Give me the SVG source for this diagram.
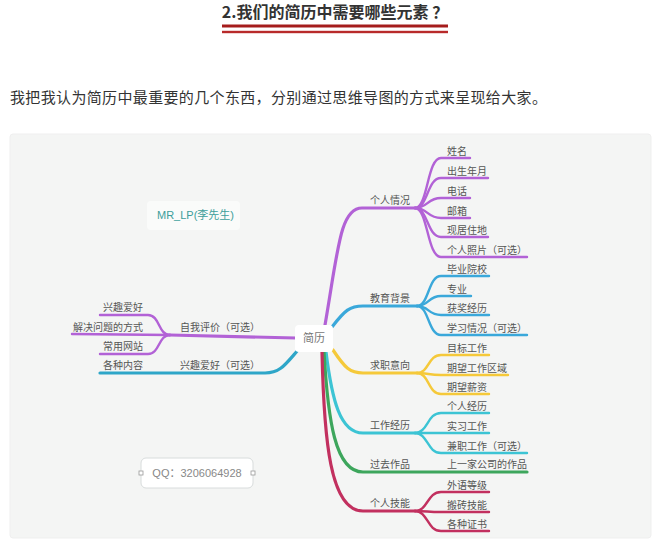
<svg xmlns="http://www.w3.org/2000/svg" width="662" height="546" viewBox="0 0 662 546">
<style>
text{font-family:"Liberation Sans","Noto Sans CJK SC",sans-serif}
.cjk{font-family:"Noto Sans CJK SC","Liberation Sans",sans-serif}
.t{font-size:10px;fill:#555}
.l{fill:none;stroke-linecap:round;stroke-width:2.4}
.m{fill:none;stroke-linecap:round;stroke-width:3.2}
.pu{stroke:#b262d6}.bl{stroke:#3aa8da}.ye{stroke:#f5c93a}.te{stroke:#3cc4d4}.gr{stroke:#3da65c}.cr{stroke:#c2305f}.lb{stroke:#2ea6c8}
</style>
<rect width="662" height="546" fill="#ffffff"/>
<g id="title">
<text class="cjk" x="335" y="18" text-anchor="middle" font-size="16" font-weight="bold" fill="#333">2.我们的简历中需要哪些元素 ？</text>
<rect x="222" y="24.5" width="226" height="3" fill="#a51c1c"/>
<rect x="222" y="30.8" width="226" height="2.4" fill="#b82a2a"/>
</g>
<text id="intro" class="cjk" x="10" y="103" font-size="15" letter-spacing="0.35" fill="#333">我把我认为简历中最重要的几个东西，分别通过思维导图的方式来呈现给大家。</text>
<rect id="panel" x="10" y="134" width="641" height="404" rx="3" fill="#f4f5f4" stroke="#efefef"/>
<g id="connectors">
<path class="m pu" d="M325,325 C338,250 340,208 362,208 L415,208"/>
<path class="m bl" d="M332,327 C345,310 350,306 363,306 L417,306"/>
<path class="m ye" d="M333,350 C345,368 350,373 363,373 L417,373"/>
<path class="m te" d="M326,352 C332,400 340,433 363,433 L415,433"/>
<path class="m gr" d="M324,352 C328,420 335,472 363,472 L527,472"/>
<path class="m cr" d="M322,352 C324,440 330,511 363,511 L415,511"/>
<path class="m pu" d="M296,338 L170,335"/>
<path class="m lb" d="M298,350 C285,365 280,373 265,373 L100,373"/>
<path class="l pu" d="M170,335 C158,335 160,315 148,315 L100,315"/>
<path class="l pu" d="M170,335 L72,334"/>
<path class="l pu" d="M170,335 C158,335 160,354 148,354 L100,354"/>
<path class="l pu" d="M415,208 C428,208 427,158 441,158 L470,158"/>
<path class="l pu" d="M415,208 C428,208 427,178 441,178 L488,178"/>
<path class="l pu" d="M415,208 C428,208 427,198 441,198 L470,198"/>
<path class="l pu" d="M415,208 C428,208 427,218 441,218 L470,218"/>
<path class="l pu" d="M415,208 C428,208 427,237 441,237 L488,237"/>
<path class="l pu" d="M415,208 C428,208 427,257 441,257 L527,257"/>
<path class="l bl" d="M417,306 C429,306 428,276 441,276 L489,276"/>
<path class="l bl" d="M417,306 C429,306 428,296 441,296 L471,296"/>
<path class="l bl" d="M417,306 C429,306 428,315 441,315 L489,315"/>
<path class="l bl" d="M417,306 C429,306 428,335 441,335 L527,335"/>
<path class="l ye" d="M417,373 C429,373 428,355 441,355 L489,355"/>
<path class="l ye" d="M417,373 C429,373 428,375 441,375 L508,375"/>
<path class="l ye" d="M417,373 C429,373 428,394 441,394 L489,394"/>
<path class="l te" d="M415,433 C428,433 427,413 441,413 L489,413"/>
<path class="l te" d="M415,433 L489,433"/>
<path class="l te" d="M415,433 C428,433 427,453 441,453 L527,453"/>
<path class="l cr" d="M415,511 C428,511 427,492 441,492 L489,492"/>
<path class="l cr" d="M415,511 C428,511 427,512 441,512 L489,512"/>
<path class="l cr" d="M415,511 C428,511 427,531 441,531 L489,531"/>
</g>
<g id="center">
<rect x="295" y="325" width="38" height="27" rx="4" fill="#ffffff"/>
<text x="314" y="342" text-anchor="middle" font-size="11" fill="#777">简历</text>
</g>
<g id="n-geren">
<text class="t" x="370" y="204">个人情况</text>
<text class="t" x="447" y="155">姓名</text>
<text class="t" x="447" y="175">出生年月</text>
<text class="t" x="447" y="195">电话</text>
<text class="t" x="447" y="215">邮箱</text>
<text class="t" x="447" y="234">现居住地</text>
<text class="t" x="447" y="254">个人照片（可选）</text>
</g>
<g id="n-jiaoyu">
<text class="t" x="370" y="302">教育背景</text>
<text class="t" x="447" y="273">毕业院校</text>
<text class="t" x="447" y="293">专业</text>
<text class="t" x="447" y="312">获奖经历</text>
<text class="t" x="447" y="332">学习情况（可选）</text>
</g>
<g id="n-qiuzhi">
<text class="t" x="370" y="369">求职意向</text>
<text class="t" x="447" y="352">目标工作</text>
<text class="t" x="447" y="372">期望工作区域</text>
<text class="t" x="447" y="391">期望薪资</text>
</g>
<g id="n-gongzuo">
<text class="t" x="370" y="429">工作经历</text>
<text class="t" x="447" y="410">个人经历</text>
<text class="t" x="447" y="430">实习工作</text>
<text class="t" x="447" y="450">兼职工作（可选）</text>
</g>
<g id="n-zuopin">
<text class="t" x="370" y="468">过去作品</text>
<text class="t" x="447" y="468">上一家公司的作品</text>
</g>
<g id="n-jineng">
<text class="t" x="370" y="507">个人技能</text>
<text class="t" x="447" y="489">外语等级</text>
<text class="t" x="447" y="509">搬砖技能</text>
<text class="t" x="447" y="528">各种证书</text>
</g>
<g id="n-ziwo">
<text class="t" x="180" y="331">自我评价（可选）</text>
<text class="t" x="143" y="311" text-anchor="end">兴趣爱好</text>
<text class="t" x="143" y="331" text-anchor="end">解决问题的方式</text>
<text class="t" x="143" y="350" text-anchor="end">常用网站</text>
</g>
<g id="n-xingqu">
<text class="t" x="180" y="369">兴趣爱好（可选）</text>
<text class="t" x="143" y="369" text-anchor="end">各种内容</text>
</g>
<g id="n-mrlp">
<rect x="147" y="201" width="93" height="29" rx="4" fill="#fafbfa"/>
<text x="157" y="219" font-size="11" fill="#3d9e9a">MR_LP(李先生)</text>
</g>
<g id="n-qq">
<rect x="141" y="458" width="112" height="30" rx="5" fill="#ffffff" stroke="#d8dcdc"/>
<rect x="139" y="471" width="4" height="4" fill="#fff" stroke="#999" stroke-width="0.8"/>
<rect x="251" y="471" width="4" height="4" fill="#fff" stroke="#999" stroke-width="0.8"/>
<text x="197" y="477" text-anchor="middle" font-size="11" fill="#888">QQ：3206064928</text>
</g>
</svg>
